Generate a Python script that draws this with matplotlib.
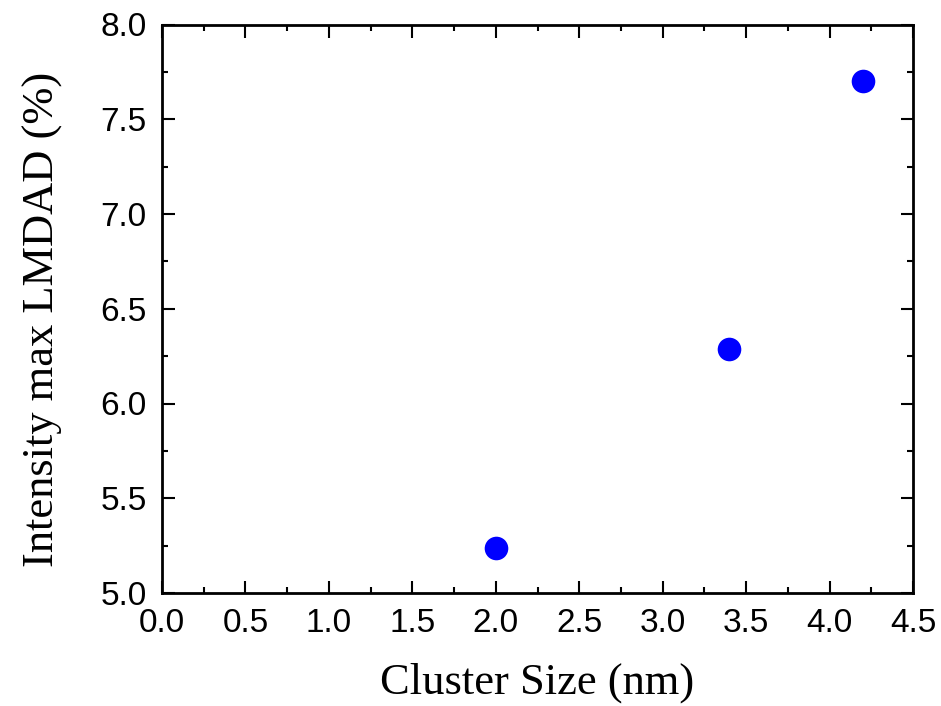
import matplotlib
matplotlib.use("Agg")
import matplotlib.pyplot as plt
from matplotlib.ticker import MultipleLocator, FormatStrFormatter

cluster_size = [2.0, 3.4, 4.2]
intensity = [5.24, 6.29, 7.70]
x_label = 'Cluster Size (nm)'
y_label = 'Intensity max LMDAD (%)'

fig = plt.figure(figsize=(9.41, 7.06), dpi=100)
L, R, T, B = 162, 913, 24.5, 593
ax = fig.add_axes([L/941, 1-B/706, (R-L)/941, (B-T)/706])
ax.plot(cluster_size, intensity, 'o', color='#0000ff', markersize=17, markeredgewidth=0)
ax.set_xlim(0, 4.5)
ax.set_ylim(5.0, 8.0)
ax.xaxis.set_major_locator(MultipleLocator(0.5))
ax.xaxis.set_minor_locator(MultipleLocator(0.25))
ax.yaxis.set_major_locator(MultipleLocator(0.5))
ax.yaxis.set_minor_locator(MultipleLocator(0.25))
ax.xaxis.set_major_formatter(FormatStrFormatter('%.1f'))
ax.yaxis.set_major_formatter(FormatStrFormatter('%.1f'))
for s in ax.spines.values():
    s.set_linewidth(2)
ax.tick_params(which='both', direction='in', top=True, right=True, width=1.5)
ax.tick_params(which='major', length=9, labelsize=24)
ax.tick_params(axis='x', which='major', pad=11)
ax.tick_params(axis='y', which='major', pad=11)
ax.tick_params(which='minor', length=4.5)
for lab in ax.get_xticklabels() + ax.get_yticklabels():
    lab.set_fontfamily('Liberation Sans')
ax.set_xlabel(x_label, fontfamily='Liberation Serif', fontsize=32)
ax.set_ylabel(y_label, fontfamily='Liberation Serif', fontsize=32)
ax.xaxis.set_label_coords(0.5, -(663 - B) / (B - T))
ax.yaxis.set_label_coords((63 - L) / (R - L), (B - 319.5) / (B - T))
fig.savefig('out.png', dpi=100)
